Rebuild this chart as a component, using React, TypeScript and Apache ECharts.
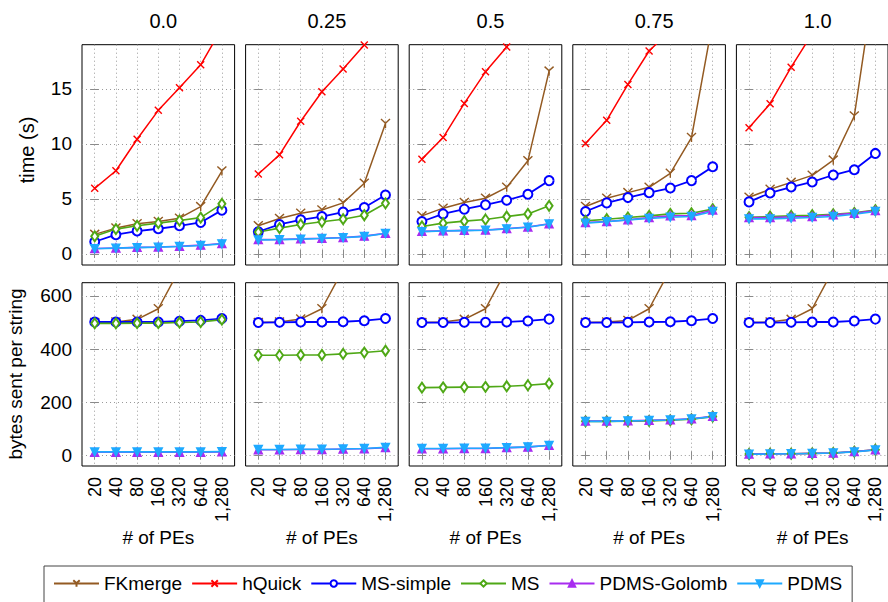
import React, { useEffect, useRef } from 'react';
import * as echarts from 'echarts';

const categories = ['20', '40', '80', '160', '320', '640', '1,280'];
const panelTitles = ['0.0', '0.25', '0.5', '0.75', '1.0'];
const seriesNames = ['FKmerge', 'hQuick', 'MS-simple', 'MS', 'PDMS-Golomb', 'PDMS'];
const timeTicks = [0, 5, 10, 15];
const bytesTicks = [0, 200, 400, 600];

// time (s), one row per panel (0.0, 0.25, 0.5, 0.75, 1.0)
const timeFKmerge = [
  [1.78, 2.35, 2.75, 2.95, 3.25, 4.3, 7.53],
  [2.56, 3.22, 3.7, 4.0, 4.64, 6.42, 11.84],
  [3.46, 4.16, 4.67, 5.06, 6.05, 8.46, 16.6],
  [4.31, 5.06, 5.57, 6.05, 7.32, 10.57, 21.1],
  [5.15, 5.87, 6.5, 7.14, 8.52, 12.53, 25.4],
];
const timeHQuick = [
  [5.96, 7.56, 10.42, 13.04, 15.09, 17.17, 20.5],
  [7.26, 9.0, 12.05, 14.73, 16.8, 18.98, 21.2],
  [8.61, 10.57, 13.67, 16.54, 18.8, 21.5, 25.0],
  [10.03, 12.14, 15.39, 18.43, 20.3, 23.0, 26.0],
  [11.45, 13.64, 16.96, 20.0, 23.0, 26.0, 29.0],
];
const timeMSSimple = [
  [1.11, 1.75, 2.08, 2.29, 2.56, 2.86, 3.98],
  [2.02, 2.68, 3.1, 3.4, 3.8, 4.22, 5.36],
  [2.95, 3.64, 4.07, 4.46, 4.88, 5.42, 6.66],
  [3.86, 4.64, 5.12, 5.57, 5.99, 6.66, 7.92],
  [4.73, 5.54, 6.08, 6.54, 7.17, 7.65, 9.13],
];
const timeMS = [
  [1.6, 2.26, 2.56, 2.8, 3.04, 3.3, 4.55],
  [1.99, 2.35, 2.68, 2.92, 3.16, 3.52, 4.6],
  [2.5, 2.8, 2.98, 3.13, 3.4, 3.64, 4.37],
  [3.01, 3.16, 3.31, 3.46, 3.64, 3.7, 4.07],
  [3.34, 3.4, 3.46, 3.52, 3.61, 3.73, 3.98],
];
const timePDMSGolomb = [
  [0.5, 0.55, 0.6, 0.64, 0.7, 0.8, 0.95],
  [1.3, 1.32, 1.37, 1.43, 1.5, 1.62, 1.88],
  [2.05, 2.1, 2.14, 2.18, 2.3, 2.45, 2.75],
  [2.86, 2.95, 3.1, 3.31, 3.46, 3.49, 4.0],
  [3.31, 3.31, 3.37, 3.4, 3.55, 3.7, 3.95],
];
const timePDMS = [
  [0.48, 0.53, 0.58, 0.62, 0.68, 0.77, 0.92],
  [1.28, 1.3, 1.35, 1.41, 1.47, 1.6, 1.86],
  [2.03, 2.08, 2.12, 2.16, 2.28, 2.43, 2.72],
  [2.8, 2.92, 3.1, 3.22, 3.34, 3.4, 3.86],
  [3.19, 3.19, 3.25, 3.31, 3.4, 3.61, 3.86],
];

// bytes sent per string
const bytesFKmerge = [
  [500, 502, 512, 552, 700, 950, 1400],
  [500, 502, 513, 552, 700, 950, 1400],
  [500, 502, 512, 552, 700, 950, 1400],
  [500, 502, 508, 552, 700, 950, 1400],
  [500, 502, 512, 552, 700, 950, 1400],
];
const bytesMSSimple = [
  [502, 502, 502, 502, 505, 508, 515],
  [500, 501, 502, 502, 503, 507, 515],
  [500, 500, 501, 501, 502, 506, 513],
  [500, 500, 501, 502, 503, 507, 515],
  [500, 500, 501, 502, 502, 506, 513],
];
const bytesMS = [
  [497, 497, 498, 498, 500, 502, 511],
  [377, 377, 378, 378, 382, 387, 394],
  [255, 256, 257, 258, 260, 264, 270],
  [128, 128, 129, 130, 132, 136, 146],
  [5, 6, 6, 7.5, 9, 14, 21],
];
const bytesPDMSGolomb = [
  [12, 12, 12, 12, 12, 12, 13],
  [21, 21, 22, 22, 24, 25, 29],
  [25, 25, 26, 26, 29, 31, 38],
  [129, 129, 130, 132, 134, 138, 147],
  [5, 6, 6, 7.5, 9, 14, 21],
];
const bytesPDMS = [
  [13, 13, 13, 13, 13, 13, 14],
  [22, 22, 23, 23, 24, 26, 30],
  [26, 26, 27, 27, 29, 32, 37],
  [128, 128, 130, 131, 133, 137, 146],
  [4, 5, 6, 7, 9, 13, 20],
];

const timeData = [timeFKmerge, timeHQuick, timeMSSimple, timeMS, timePDMSGolomb, timePDMS];
const bytesData = [bytesFKmerge, null, bytesMSSimple, bytesMS, bytesPDMSGolomb, bytesPDMS];

const FONT = '"Liberation Sans", Arial, Helvetica, sans-serif';

const styles = [
  { color: '#935a22', symbol: 'path://M5,5L0,0M5,5L10,0M5,5L5,11', size: 9, width: 1.5, rotate: 0 },
  { color: '#ff0000', symbol: 'path://M0,0L10,10M10,0L0,10', size: 7, width: 1.5, rotate: 0 },
  { color: '#0000ff', symbol: 'emptyCircle', size: 9, width: 1.8, rotate: 0 },
  { color: '#4fa816', symbol: 'emptyDiamond', size: [7, 10], width: 1.6, rotate: 0 },
  { color: '#a82cf0', symbol: 'triangle', size: 8, width: 1.6, rotate: 0 },
  { color: '#1eaaff', symbol: 'triangle', size: 8, width: 1.6, rotate: 180 },
];

const colLeft = [82, 245.6, 409.2, 572.8, 736.4];
const colW = 152.6;
const rowTop = [44.7, 282.7];
const rowH = [220.3, 183.3];
const rowMin = [-1, -40];
const rowMax = [19, 650];
const rowTicks = [timeTicks, bytesTicks];
const catIdx = categories.map((_, i) => i);

function buildOption() {
  const grid: any[] = [];
  const xAxis: any[] = [];
  const yAxis: any[] = [];
  const series: any[] = [];
  const title: any[] = [];
  const tickStyle = { color: '#8a8a8a', width: 1 };
  const gridLine = { color: '#9a9a9a', type: [1, 3], width: 1 };

  for (let r = 0; r < 2; r++) {
    for (let c = 0; c < 5; c++) {
      const p = r * 5 + c;
      grid.push({
        left: colLeft[c], top: rowTop[r], width: colW, height: rowH[r],
        show: true, borderColor: '#000', borderWidth: 1, backgroundColor: 'transparent',
      });
      xAxis.push({
        type: 'value', gridIndex: p, position: 'bottom', min: -0.6, max: 6.6, splitNumber: 7,
        axisLine: { show: false },
        axisTick: { show: true, inside: true, length: 4, customValues: catIdx, lineStyle: tickStyle },
        axisLabel: {
          show: r === 1, customValues: catIdx, rotate: 90, margin: 11, fontSize: 18, color: '#000',
          fontFamily: FONT, formatter: (v: number) => categories[Math.round(v)] ?? '',
        },
        splitLine: { show: true, lineStyle: gridLine },
      });
      xAxis.push({
        type: 'value', gridIndex: p, position: 'top', min: -0.6, max: 6.6, splitNumber: 7,
        axisLine: { show: false },
        axisTick: { show: true, inside: true, length: 4, customValues: catIdx, lineStyle: tickStyle },
        axisLabel: { show: false },
        splitLine: { show: false },
      });
      yAxis.push({
        type: 'value', gridIndex: p, position: 'left', min: rowMin[r], max: rowMax[r], splitNumber: 4,
        axisLine: { show: false },
        axisTick: { show: true, inside: true, length: 4, customValues: rowTicks[r], lineStyle: tickStyle },
        axisLabel: {
          show: c === 0, customValues: rowTicks[r], margin: 10, fontSize: 19, color: '#000', fontFamily: FONT,
        },
        splitLine: { show: true, lineStyle: gridLine },
      });
      yAxis.push({
        type: 'value', gridIndex: p, position: 'right', min: rowMin[r], max: rowMax[r], splitNumber: 4,
        axisLine: { show: false },
        axisTick: { show: true, inside: true, length: 4, customValues: rowTicks[r], lineStyle: tickStyle },
        axisLabel: { show: false },
        splitLine: { show: false },
      });

      seriesNames.forEach((name, i) => {
        const src = r === 0 ? timeData[i] : bytesData[i];
        if (!src) return;
        const st = styles[i];
        series.push({
          type: 'line', name, xAxisIndex: 2 * p, yAxisIndex: 2 * p,
          data: src[c].map((v, k) => [catIdx[k], v]),
          symbol: st.symbol, symbolSize: st.size, symbolRotate: st.rotate,
          showAllSymbol: true, clip: true,
          lineStyle: { color: st.color, width: st.width },
          itemStyle: { color: st.color, borderColor: st.color, borderWidth: 1.4 },
          emphasis: { disabled: true },
        });
      });
    }
  }

  panelTitles.forEach((t, c) => {
    title.push({
      text: t, left: colLeft[c] + colW / 2, top: 6, textAlign: 'center',
      textStyle: { fontSize: 20, fontWeight: 'normal', color: '#000', fontFamily: FONT },
    });
  });

  const graphic: any[] = [
    {
      type: 'text', x: 27, y: 150, rotation: Math.PI / 2,
      style: { text: 'time (s)', fontSize: 20, fontFamily: FONT, fill: '#000', align: 'center', verticalAlign: 'middle' },
    },
    {
      type: 'text', x: 15, y: 374, rotation: Math.PI / 2,
      style: { text: 'bytes sent per string', fontSize: 19, fontFamily: FONT, fill: '#000', align: 'center', verticalAlign: 'middle' },
    },
  ];
  colLeft.forEach((l) => {
    graphic.push({
      type: 'text', x: l + colW / 2, y: 537,
      style: { text: '# of PEs', fontSize: 19, fontFamily: FONT, fill: '#000', align: 'center', verticalAlign: 'middle' },
    });
  });

  return {
    animation: false,
    backgroundColor: '#fff',
    title,
    grid,
    xAxis,
    yAxis,
    series,
    graphic,
    legend: {
      data: seriesNames,
      left: 44, top: 566,
      itemWidth: 45, itemHeight: 8, itemGap: 9,
      padding: [8, 10, 30, 9],
      borderColor: '#444', borderWidth: 1,
      textStyle: { fontSize: 19, color: '#000', fontFamily: FONT },
      selectedMode: false,
    },
  };
}

export default function App() {
  const ref = useRef<HTMLDivElement>(null);
  useEffect(() => {
    if (!ref.current) return;
    const chart = echarts.init(ref.current, undefined, { renderer: 'svg' });
    chart.setOption(buildOption() as any);
    return () => chart.dispose();
  }, []);
  return <div ref={ref} style={{ position: 'fixed', left: 0, top: 0, width: 888, height: 602 }} />;
}
